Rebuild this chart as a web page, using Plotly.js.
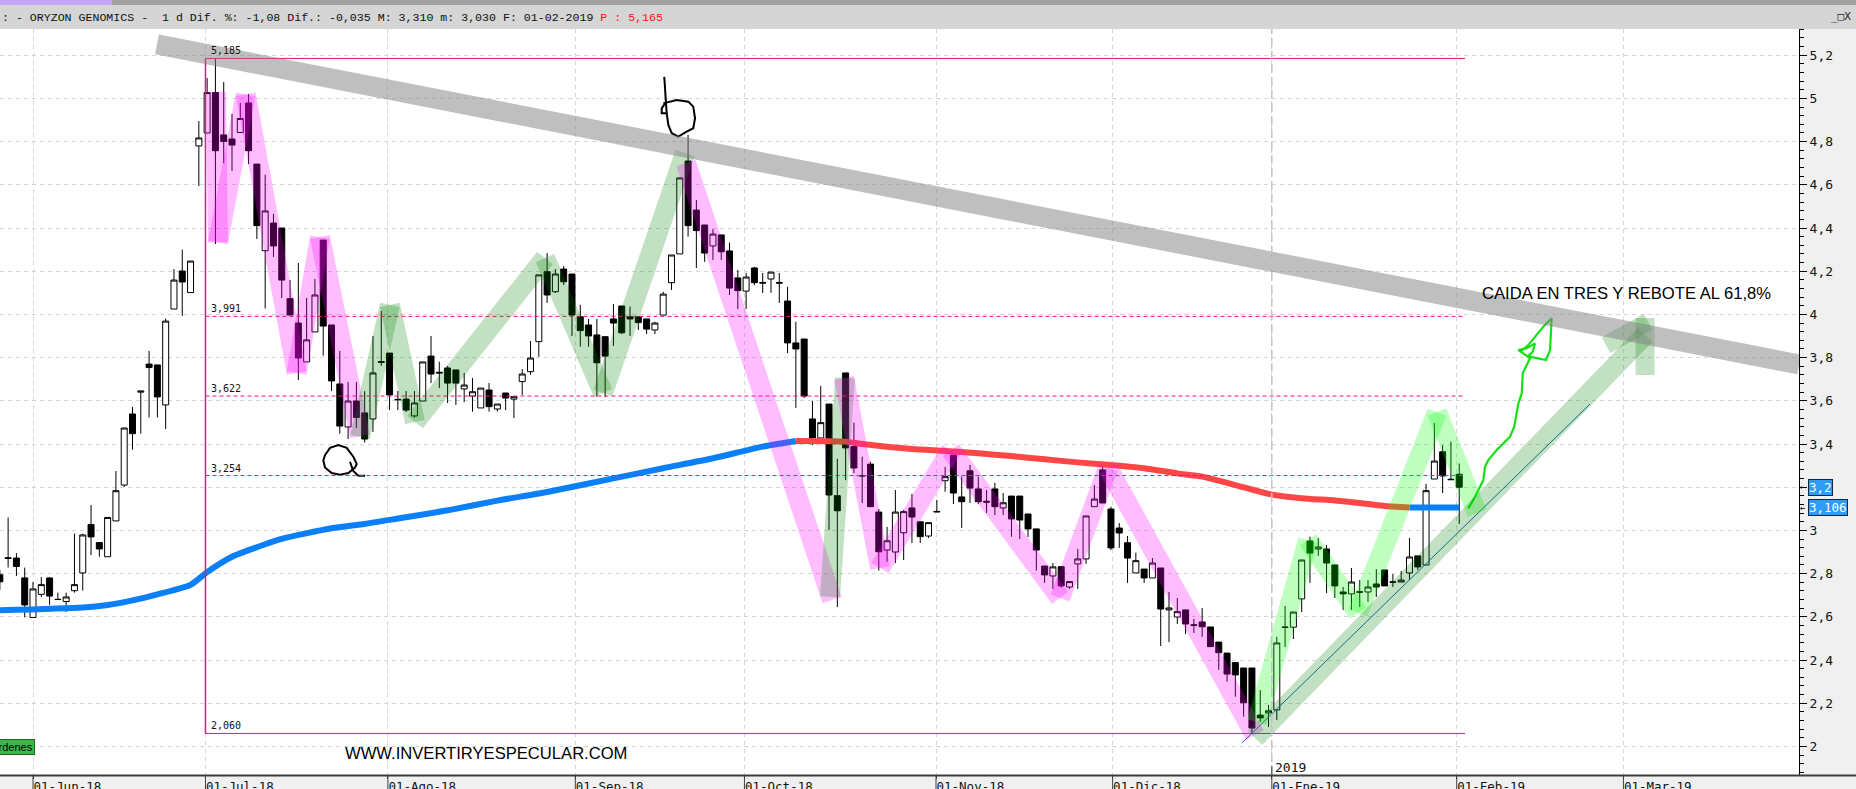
<!DOCTYPE html>
<html><head><meta charset="utf-8">
<script src="https://cdn.plot.ly/plotly-3.0.1.min.js"></script>
<style>html,body{margin:0;padding:0;background:#f0f0f0;overflow:hidden}#chart{width:1856px;height:789px}</style>
</head><body><div id="chart"></div>
<script>
// ---------------- DATA ----------------
const firstBar = -4; // trading-day index of first visible candle (0 = 01-Jun-18)
const open = [2.795,2.874,2.872,2.780,
2.597,2.704,2.780,2.681,2.671,2.721,2.803,3.027,2.944,2.878,
3.044,3.210,3.539,3.640,3.770,3.766,3.581,4.025,4.201,4.101,
4.780,4.840,5.027,4.831,4.812,4.842,4.979,4.696,4.295,4.423,
4.400,4.073,3.960,3.780,3.919,4.344,3.951,3.678,3.479,3.599,
3.544,3.516,3.782,3.821,3.607,3.608,3.530,3.599,3.807,3.732,
3.752,3.743,3.655,3.622,3.567,3.650,3.562,3.636,3.608,3.689,
3.735,3.874,4.198,4.105,4.210,4.187,3.989,3.951,3.905,3.897,
3.979,4.039,3.989,3.989,3.979,3.928,3.997,4.147,4.280,4.710,
4.483,4.414,4.317,4.368,4.294,4.169,4.108,4.215,4.148,4.164,
4.148,4.062,3.868,3.886,3.516,3.428,3.585,3.161,3.729,3.388,
3.254,3.307,3.085,2.909,2.900,2.989,3.104,3.040,2.974,3.088,
3.230,3.349,3.155,3.276,3.192,3.135,3.192,3.104,3.159,3.159,
3.076,3.007,2.835,2.789,2.832,2.738,2.845,2.868,3.110,3.280,
3.099,3.011,2.943,2.803,2.821,2.780,2.826,2.632,2.599,2.632,
2.563,2.576,2.553,2.483,2.432,2.388,2.363,2.363,2.145,2.155,
2.169,2.553,2.552,2.683,2.951,2.914,2.914,2.840,2.715,2.706,
2.716,2.715,2.752,2.817,2.762,2.761,2.803,2.882,2.840,3.238,
3.364,3.237,3.260];
const high = [2.817,3.060,2.895,2.828,
2.761,2.784,2.782,2.712,2.712,2.985,2.985,3.118,2.944,3.060,
3.275,3.474,3.572,3.647,3.831,3.766,3.981,4.210,4.300,4.247,
4.895,5.094,5.185,5.076,4.928,4.979,5.020,4.696,4.647,4.465,
4.400,4.159,4.238,4.076,4.164,4.344,3.951,3.831,3.687,3.687,
3.645,3.900,4.016,3.821,3.645,3.645,3.645,3.780,3.900,3.781,
3.761,3.743,3.729,3.706,3.659,3.682,3.585,3.636,3.619,3.747,
3.877,4.183,4.284,4.210,4.224,4.187,4.044,3.979,3.979,3.897,
4.048,4.039,4.036,3.989,3.979,3.966,4.105,4.275,4.632,4.831,
4.530,4.414,4.395,4.368,4.332,4.206,4.192,4.221,4.192,4.196,
4.192,4.128,3.966,3.886,3.600,3.669,3.585,3.331,3.729,3.499,
3.341,3.318,3.099,3.016,3.187,3.095,3.169,3.040,3.036,3.141,
3.294,3.349,3.249,3.303,3.249,3.187,3.220,3.173,3.159,3.159,
3.076,3.007,2.835,2.849,2.832,2.763,2.914,3.067,3.210,3.318,
3.110,3.034,2.974,2.897,2.821,2.872,2.826,2.715,2.687,2.632,
2.590,2.641,2.553,2.483,2.432,2.388,2.363,2.363,2.261,2.192,
2.507,2.650,2.622,2.863,2.971,2.965,2.933,2.840,2.738,2.826,
2.770,2.770,2.821,2.817,2.798,2.812,2.965,2.882,3.215,3.497,
3.395,3.411,3.310];
const low = [2.724,2.828,2.789,2.597,
2.597,2.692,2.655,2.679,2.622,2.712,2.721,2.886,2.878,2.878,
3.044,3.201,3.374,3.448,3.523,3.523,3.469,4.025,3.993,4.101,
4.594,4.840,4.326,4.700,4.664,4.842,4.696,4.349,4.027,4.266,
4.076,3.997,3.696,3.780,3.919,3.809,3.645,3.448,3.423,3.474,
3.407,3.456,3.761,3.557,3.557,3.548,3.523,3.599,3.682,3.659,
3.590,3.581,3.594,3.550,3.567,3.550,3.550,3.557,3.520,3.627,
3.720,3.804,4.053,4.099,4.136,3.900,3.851,3.851,3.619,3.617,
3.854,3.909,3.900,3.928,3.909,3.909,3.997,4.113,4.280,4.360,
4.215,4.243,4.252,4.252,4.090,4.025,4.025,4.136,4.099,4.100,
4.053,3.821,3.567,3.613,3.395,3.428,3.002,2.645,3.233,3.266,
3.127,3.110,2.814,2.855,2.849,2.863,2.942,2.942,2.965,3.086,
3.179,3.122,3.011,3.127,3.122,3.081,3.071,3.071,2.971,2.960,
2.970,2.814,2.757,2.729,2.735,2.729,2.729,2.845,3.110,3.127,
2.909,2.919,2.757,2.803,2.757,2.780,2.465,2.483,2.567,2.520,
2.525,2.507,2.462,2.354,2.300,2.230,2.138,2.060,2.114,2.090,
2.122,2.460,2.497,2.622,2.757,2.882,2.710,2.687,2.632,2.632,
2.645,2.669,2.692,2.743,2.738,2.761,2.770,2.817,2.840,3.238,
3.173,3.235,3.030];
const close = [2.762,2.870,2.833,2.655,
2.729,2.749,2.696,2.680,2.692,2.749,2.979,2.970,2.914,3.060,
3.184,3.474,3.448,3.645,3.754,3.618,3.969,4.159,4.150,4.247,
4.817,5.027,4.758,4.801,4.784,4.907,4.758,4.411,4.479,4.317,
4.159,3.997,3.798,3.882,4.090,3.946,3.692,3.483,3.599,3.523,
3.423,3.729,3.778,3.627,3.605,3.557,3.590,3.780,3.724,3.729,
3.682,3.682,3.673,3.642,3.659,3.573,3.585,3.613,3.619,3.724,
3.798,4.183,4.090,4.187,4.151,3.997,3.925,3.900,3.776,3.807,
3.960,3.915,3.979,3.962,3.932,3.960,4.094,4.275,4.632,4.411,
4.388,4.284,4.372,4.290,4.122,4.110,4.173,4.147,4.145,4.196,
4.145,3.868,3.840,3.622,3.428,3.499,3.164,3.091,3.382,3.289,
3.252,3.110,2.901,2.952,3.085,3.087,3.062,2.971,3.036,3.086,
3.249,3.173,3.133,3.196,3.133,3.131,3.110,3.128,3.053,3.048,
3.007,2.909,2.794,2.831,2.743,2.763,2.868,3.067,3.145,3.127,
2.919,2.988,2.872,2.860,2.780,2.849,2.636,2.641,2.624,2.567,
2.561,2.554,2.462,2.434,2.335,2.331,2.202,2.085,2.132,2.165,
2.479,2.551,2.622,2.863,2.895,2.923,2.849,2.743,2.706,2.761,
2.714,2.738,2.738,2.743,2.760,2.770,2.877,2.831,3.184,3.321,
3.252,3.235,3.200];

// moving average (read at sample bars)
const maBar = [-4,6,9,12,15,19,21,24,28,30,36,40,44,50,56,62,70,76,82,88,92,98,100,106,110,114,118,122,126,130,134,138,141,145,149,153,157,161,163,166,172];
const maVal = [2.630,2.643,2.655,2.676,2.704,2.748,2.807,2.878,2.936,2.961,3.010,3.030,3.055,3.093,3.138,3.178,3.241,3.288,3.334,3.388,3.414,3.411,3.400,3.377,3.368,3.357,3.344,3.329,3.315,3.303,3.288,3.264,3.249,3.210,3.169,3.149,3.138,3.122,3.113,3.106,3.106];
const maRedFrom = 92, maRedTo = 166;

// x axis months
const monthBar = [0,20.8,42.8,65.4,85.8,108.9,130.2,149.4,171.7,191.8];
const monthLabel = ['01-Jun-18','01-Jul-18','01-Ago-18','01-Sep-18','01-Oct-18','01-Nov-18','01-Dic-18','01-Ene-19','01-Feb-19','01-Mar-19'];

// Fibonacci box
const fibLevels = [5.185,3.991,3.622,3.254,2.060];
const fibLabels = ['5,185','3,991','3,622','3,254','2,060'];
const fibSolid  = [true,false,false,false,true];
const fibStartBar = 20.8, fibEndBar = 172.7;

// drawn wave paths
const pink1X = [22.07,22.31,25.65,31.80,34.61,39.44];
const pink1Y = [5.030,4.333,5.019,3.729,4.358,3.437];
const green1X = [39.44,43.05,46.07,61.75,68.74,78.63];
const green1Y = [3.432,4.044,3.502,4.261,3.636,4.747];
const pink2X = [78.75,96.36];
const pink2Y = [4.701,2.678];
const green2X = [96.12,97.93];
const green2Y = [2.692,3.706];
const pink3X = [97.81,102.15,110.71,123.86,129.65,147.37];
const pink3Y = [3.706,2.826,3.372,2.687,3.289,2.053];
const lime1X = [147.61,153.77,159.80,169.32,174.15];
const lime1Y = [2.113,2.956,2.618,3.548,3.081];
const arrowShaftX = [147.37,194.41], arrowShaftY = [2.039,3.905];
const arrowStemX = [194.41,194.41], arrowStemY = [3.720,3.983];
const arrowWingX = [189.70,194.77], arrowWingY = [3.858,3.965];

// resistance band & support line
const resistX = [14.95,213.0], resistY = [5.250,3.768];
const supportX = [145.8,187.77], supportY = [2.016,3.585];

// hand-drawn marks
const markAX = [35.22,35.82,36.82,37.83,38.63,39.04,38.83,38.03,37.02,36.02,35.22,35.01,35.22];
const markAY = [3.349,3.382,3.395,3.382,3.341,3.308,3.291,3.266,3.258,3.266,3.291,3.324,3.349];
const markATailX = [38.23,38.63,39.23,40.04];
const markATailY = [3.317,3.275,3.253,3.253];
const markBStemX = [76.13,76.42], markBStemY = [5.100,4.931];
const markBX = [76.01,77.63,79.03,79.63,79.84,79.63,78.83,77.82,77.03,76.62,76.42,75.82,75.82,76.22];
const markBY = [4.977,4.993,4.985,4.962,4.908,4.862,4.846,4.823,4.839,4.877,4.931,4.931,4.954,4.977];
const greenDrawX = [173.10,173.90,174.91,175.11,175.51,176.52,177.32,178.13,178.64,178.85,179.13,179.54,179.66,180.14,180.54,179.73,179.13,180.14,181.14,180.86,180.33,180.94,182.47,182.95,183.15,182.14,181.14,180.33,179.33];
const greenDrawY = [3.102,3.156,3.233,3.295,3.326,3.372,3.403,3.434,3.480,3.526,3.588,3.635,3.727,3.766,3.797,3.820,3.835,3.843,3.866,3.827,3.807,3.801,3.789,3.835,3.982,3.943,3.897,3.858,3.827];

const lastPrice = 3.2, lastMA = 3.106;
const headerText = ': - ORYZON GENOMICS -  1 d Dif. %: -1,08 Dif.: -0,035 M: 3,310 m: 3,030 F: 01-02-2019 ';
const headerPrice = 'P : 5,165';
const noteText = 'CAIDA EN TRES Y REBOTE AL 61,8%';
const siteText = 'WWW.INVERTIRYESPECULAR.COM';

// ---------------- LAYOUT HELPERS ----------------
const W = 1856, H = 789, ML = 0, MR = 57, MT = 29, MB = 14;
const PW = W - ML - MR, PH = H - MT - MB;
const pxX = p => (p - ML) / PW;
const pxY = p => (MT + PH - p) / PH;

const bars = open.map((_, i) => firstBar + i);

const traces = [];
traces.push({
  type: 'candlestick', x: bars, open: open, high: high, low: low, close: close,
  increasing: {line: {color: '#000', width: 1}, fillcolor: '#ffffff'},
  decreasing: {line: {color: '#000', width: 1}, fillcolor: '#000000'},
  whiskerwidth: 0, hoverinfo: 'skip', showlegend: false
});
function maPart(fn, color) {
  const xs = [], ys = [];
  maBar.forEach((b, i) => { if (fn(b)) { xs.push(b); ys.push(maVal[i]); } });
  traces.push({type: 'scatter', mode: 'lines', x: xs, y: ys, line: {color: color, width: 6, shape: 'spline', smoothing: 0.6}, hoverinfo: 'skip', showlegend: false});
}
maPart(b => b <= maRedFrom, '#0a7ff7');
maPart(b => b >= maRedFrom && b <= maRedTo, '#ff4646');
maPart(b => b >= maRedTo, '#0a7ff7');

function line(xs, ys, color, width) {
  traces.push({type: 'scatter', mode: 'lines', x: xs, y: ys, line: {color: color, width: width}, hoverinfo: 'skip', showlegend: false});
}
line(supportX, supportY, '#1565c0', 1);
line(markAX, markAY, '#000', 2);
line(markATailX, markATailY, '#000', 2);
line(markBStemX, markBStemY, '#000', 2);
line(markBX, markBY, '#000', 2);
line(greenDrawX, greenDrawY, '#14e014', 2.2);

const shapes = [];
// Fibonacci lines
fibLevels.forEach((lv, i) => {
  shapes.push({type: 'line', xref: 'x', yref: 'y', x0: fibStartBar, x1: fibEndBar, y0: lv, y1: lv,
    line: {color: '#f0107f', width: 1, dash: fibSolid[i] ? 'solid' : '4px,3px'}});
});
shapes.push({type: 'line', xref: 'x', yref: 'y', x0: fibStartBar, x1: fibStartBar, y0: fibLevels[4], y1: fibLevels[0], line: {color: '#f0107f', width: 1.5}});

function segs(xs, ys, color, width) {
  for (let i = 0; i < xs.length - 1; i++) {
    shapes.push({type: 'line', xref: 'x', yref: 'y', x0: xs[i], y0: ys[i], x1: xs[i+1], y1: ys[i+1], line: {color: color, width: width}});
  }
}
const PINK = 'rgba(255,0,255,0.26)', GREEN = 'rgba(0,128,0,0.24)', LIME = 'rgba(0,255,0,0.25)';
segs(pink1X, pink1Y, PINK, 20);
segs(green1X, green1Y, GREEN, 20);
segs(pink2X, pink2Y, PINK, 20);
segs(green2X, green2Y, GREEN, 20);
segs(pink3X, pink3Y, PINK, 20);
segs(lime1X, lime1Y, LIME, 20);
segs(arrowShaftX, arrowShaftY, GREEN, 20);
segs(arrowStemX, arrowStemY, GREEN, 19);
segs(arrowWingX, arrowWingY, GREEN, 18);
segs(resistX, resistY, 'rgba(128,128,128,0.5)', 20);

// year separator
shapes.push({type: 'line', xref: 'x', yref: 'paper', x0: monthBar[7], x1: monthBar[7], y0: 0, y1: 1, line: {color: '#c4c4c4', width: 1.5, dash: '9px,4px'}});
// bottom tick marks
monthBar.forEach(b => shapes.push({type: 'line', xref: 'x', yref: 'paper', x0: b, x1: b, y0: 0, y1: pxY(H), line: {color: '#404040', width: 1}}));
shapes.push({type: 'line', xref: 'x', yref: 'paper', x0: monthBar[7], x1: monthBar[7], y0: 0, y1: pxY(766), line: {color: '#404040', width: 1}});
// bottom axis line
shapes.push({type: 'line', xref: 'paper', yref: 'paper', x0: 0, x1: pxX(W), y0: pxY(775.5), y1: pxY(775.5), line: {color: '#3c3c3c', width: 2}});
// header
shapes.push({type: 'rect', xref: 'paper', yref: 'paper', x0: 0, x1: pxX(W), y0: pxY(29), y1: pxY(5), fillcolor: '#d5d5d5', line: {width: 0}});
shapes.push({type: 'rect', xref: 'paper', yref: 'paper', x0: 0, x1: pxX(W), y0: pxY(5), y1: pxY(0), fillcolor: '#a2a2a2', line: {width: 0}});
shapes.push({type: 'rect', xref: 'paper', yref: 'paper', x0: 0, x1: pxX(112), y0: pxY(5), y1: pxY(0), fillcolor: '#c8a4f6', line: {width: 0}});

const mono = 'DejaVu Sans Mono, Liberation Mono, monospace';
const annotations = [];
annotations.push({xref: 'paper', yref: 'paper', x: pxX(0), y: pxY(17.5), xanchor: 'left', yanchor: 'middle', showarrow: false,
  text: headerText + '<span style="color:#ff1010">' + headerPrice + '</span>', font: {family: 'Liberation Mono, monospace', size: 11.6, color: '#111'}});
annotations.push({xref: 'paper', yref: 'paper', x: pxX(1829), y: pxY(16), xanchor: 'left', yanchor: 'middle', showarrow: false,
  text: '_□X', font: {family: mono, size: 11, color: '#222'}});
fibLevels.forEach((lv, i) => annotations.push({xref: 'x', yref: 'y', x: fibStartBar + 0.6, y: lv, xanchor: 'left', yanchor: 'bottom', showarrow: false,
  text: fibLabels[i], font: {family: mono, size: 10, color: '#111'}, borderpad: 0, yshift: 1}));
annotations.push({xref: 'paper', yref: 'paper', x: pxX(1480), y: pxY(293), xanchor: 'left', yanchor: 'middle', showarrow: false,
  text: noteText, font: {family: 'Liberation Sans, Arial, sans-serif', size: 16.6, color: '#000'}});
annotations.push({xref: 'paper', yref: 'paper', x: pxX(486), y: pxY(753.5), xanchor: 'center', yanchor: 'middle', showarrow: false,
  text: siteText, font: {family: 'Liberation Sans, Arial, sans-serif', size: 16.6, color: '#000'}});
annotations.push({xref: 'x', yref: 'paper', x: monthBar[7], xshift: 1, y: pxY(767.5), xanchor: 'left', yanchor: 'middle', showarrow: false,
  text: '2019', font: {family: mono, size: 13, color: '#111'}});
annotations.push({xref: 'paper', yref: 'paper', x: pxX(35), y: pxY(747), xanchor: 'right', yanchor: 'middle', showarrow: false,
  text: 'Órdenes', font: {family: 'Liberation Sans, Arial, sans-serif', size: 11, color: '#000'}, bgcolor: '#3db54a', bordercolor: '#1d6b22', borderwidth: 1, borderpad: 1});
[[lastPrice, '3,2'], [lastMA, '3,106']].forEach(([v, t]) => {
  annotations.push({xref: 'paper', yref: 'y', x: pxX(1808), y: v, xanchor: 'left', yanchor: 'middle', showarrow: false,
    text: t, font: {family: mono, size: 12.5, color: '#ffffff'}, bgcolor: '#2e9cf6', bordercolor: '#0b2a4a', borderwidth: 1, borderpad: 0});
  annotations.push({xref: 'paper', yref: 'y', x: pxX(1808), y: v, xanchor: 'right', yanchor: 'middle', showarrow: false,
    text: '←', font: {family: mono, size: 9, color: '#000'}});
});

const layout = {
  width: W, height: H,
  margin: {l: ML, r: MR, t: MT, b: MB, pad: 0},
  paper_bgcolor: '#f0f0f0', plot_bgcolor: '#ffffff',
  separators: ',.',
  showlegend: false, hovermode: false, dragmode: false,
  boxgap: 0.12, boxgroupgap: 0.18,
  xaxis: {
    type: 'linear', range: [-33 / 8.292, (PW - 33) / 8.292],
    tickmode: 'array', tickvals: monthBar, ticktext: monthLabel,
    ticks: 'outside', ticklen: 3, tickcolor: '#404040', ticklabelposition: 'outside right',
    tickfont: {family: mono, size: 12.5, color: '#111'},
    showgrid: true, gridcolor: '#d6d6d6', griddash: '4px,4px', gridwidth: 1,
    zeroline: false, showline: false, rangeslider: {visible: false}, fixedrange: true
  },
  yaxis: {
    side: 'right', range: [5.4556 - 775 / 216, 5.4556 - 29 / 216],
    tick0: 2, dtick: 0.2, ticks: 'outside', ticklen: 7, tickcolor: '#000',
    minor: {dtick: 0.04, ticks: 'outside', ticklen: 4, tickcolor: '#000', showgrid: false},
    tickfont: {family: mono, size: 13, color: '#111'},
    showgrid: true, gridcolor: '#d6d6d6', griddash: '4px,4px', gridwidth: 1,
    zeroline: false, showline: true, linecolor: '#000', linewidth: 1, fixedrange: true
  },
  shapes: shapes, annotations: annotations
};
Plotly.newPlot('chart', traces, layout, {staticPlot: true, displayModeBar: false});
</script></body></html>
